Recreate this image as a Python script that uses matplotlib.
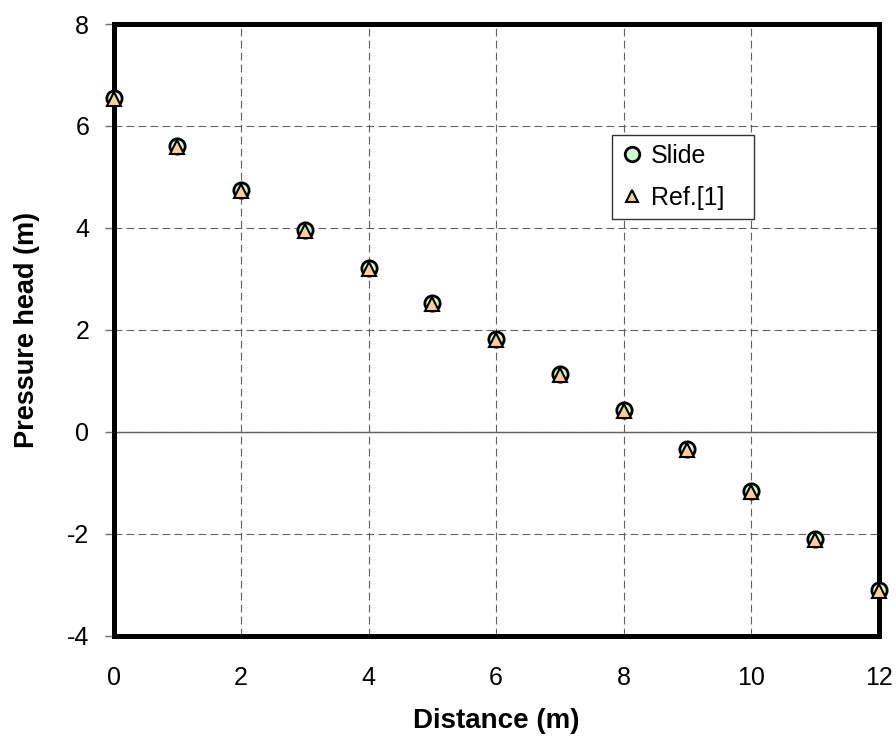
import matplotlib
matplotlib.use("Agg")
import matplotlib.pyplot as plt

plt.rcParams['font.family'] = ['Liberation Sans', 'DejaVu Sans']
plt.rcParams['axes.unicode_minus'] = False

distance = [0, 1, 2, 3, 4, 5, 6, 7, 8, 9, 10, 11, 12]
slide = [6.54, 5.60, 4.74, 3.96, 3.22, 2.52, 1.83, 1.14, 0.42, -0.33, -1.16, -2.10, -3.10]
ref1 = [6.52, 5.58, 4.72, 3.94, 3.20, 2.50, 1.81, 1.12, 0.40, -0.35, -1.18, -2.12, -3.12]

xticks = [0, 2, 4, 6, 8, 10, 12]
yticks = [-4, -2, 0, 2, 4, 6, 8]

W, H = 896, 741
fig = plt.figure(figsize=(W / 100, H / 100), dpi=100)
left, right, top, bottom = 113.5, 878.5, 24, 635.7
ax = fig.add_axes([left / W, 1 - bottom / H, (right - left) / W, (bottom - top) / H])

ax.set_xlim(0, 12)
ax.set_ylim(-4, 8)
ax.set_xticks(xticks)
ax.set_yticks(yticks)

ax.grid(True, linestyle=(0, (7, 3.8)), color='#606060', linewidth=0.8)
ax.axhline(0, color='#606060', linewidth=1.0, zorder=1.5)

ax.plot(distance, slide, linestyle='none', marker='o', markersize=11,
        markerfacecolor='#ccffcc', markeredgecolor='black', markeredgewidth=2.0,
        label='Slide', zorder=3, clip_on=False)
ax.plot(distance, ref1, linestyle='none', marker='^', markersize=9.5,
        markerfacecolor='#ffcc99', markeredgecolor='black', markeredgewidth=1.5,
        label='Ref.[1]', zorder=4, clip_on=False)

for sp in ax.spines.values():
    sp.set_linewidth(3.6)
    sp.set_color('black')
    sp.set_zorder(2.5)

ax.tick_params(axis='y', direction='out', length=6.5, width=1, color='#707070',
               labelsize=18, pad=11)
ax.tick_params(axis='x', length=0, labelsize=18, pad=22)

ax.set_xlabel('Distance (m)', fontsize=20, fontweight='bold', labelpad=13)
ax.set_ylabel('Pressure head (m)', fontsize=19.5, fontweight='bold', labelpad=19)

# legend box spans a fixed width in axes coordinates
lx0 = (612 - left) / (right - left)
lx1 = (754 - left) / (right - left)
ly1 = 1 - (135 - top) / (bottom - top)
leg = ax.legend(loc='upper left', bbox_to_anchor=(lx0, ly1 - 0.2, lx1 - lx0, 0.2),
                mode='expand', frameon=True, fancybox=False, fontsize=18,
                handlelength=0.9, handletextpad=0.3, borderpad=0.36,
                labelspacing=0.7, markerscale=0.95, borderaxespad=0)
leg.get_frame().set_edgecolor('#333333')
leg.get_frame().set_linewidth(1.0)
leg.get_frame().set_alpha(1)

fig.savefig('out.png', dpi=100)
